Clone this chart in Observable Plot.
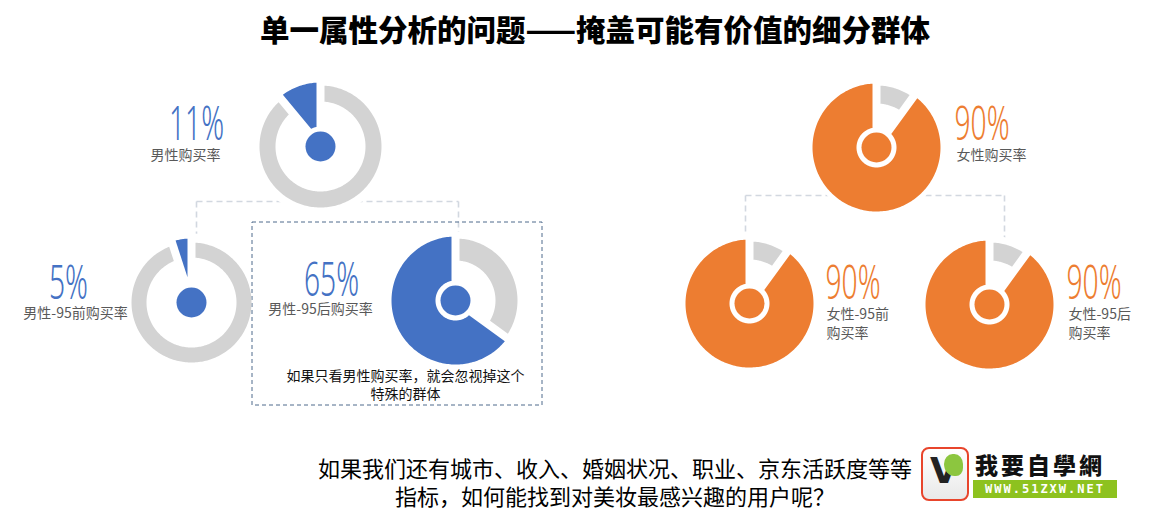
<!DOCTYPE html>
<html>
<head>
<meta charset="utf-8">
<script src="https://cdn.jsdelivr.net/npm/d3@7"></script>
<script src="https://cdn.jsdelivr.net/npm/@observablehq/plot@0.6"></script>
<style>
  html, body { margin: 0; padding: 0; background: #fff; }
  body { width: 1150px; height: 520px; overflow: hidden; position: relative; font-family: "Noto Sans CJK SC", sans-serif; }
  #title { height: 50px; line-height: 56px; text-align: center; font-size: 29.5px; font-weight: 900; color: #000; padding-left: 40px; white-space: nowrap; }
  #chart { height: 380px; }
  #question { position: absolute; left: 300px; top: 453px; width: 630px; text-align: center; font-size: 22px; line-height: 28px; color: #000; white-space: nowrap; }
  #logo { position: absolute; left: 918px; top: 445px; width: 202px; height: 58px; background: #fff; }
  #logo .vbox { position: absolute; left: 3px; top: 2px; width: 44px; height: 50px; border: 2px solid #e8452c; border-radius: 8px; background: linear-gradient(#ffffff, #e9e9e9); }
  #logo .v { position: absolute; left: 7px; top: 2px; font: 900 36px/40px "DejaVu Sans", sans-serif; color: #222; }
  #logo .leaf { position: absolute; left: 21px; top: 5px; width: 19px; height: 22px; background: #8cc63f; border-radius: 50% 50% 40% 60%; }
  #logo .lt { position: absolute; left: 57px; top: 2px; font: 900 23px "Noto Sans CJK TC", sans-serif; letter-spacing: 3px; color: #111; }
  #logo .lb { position: absolute; left: 55px; top: 35px; width: 144px; height: 18px; background: #8dc21f; color: #fff; font: bold 12px "DejaVu Sans Mono", monospace; letter-spacing: 2px; text-align: center; line-height: 18px; }
</style>
</head>
<body>
<div id="title">单一属性分析的问题——掩盖可能有价值的细分群体</div>
<div id="chart"></div>
<div id="question"></div>
<div id="logo"><div class="vbox"><span class="v">V</span><span class="leaf"></span></div><div class="lt">我要自學網</div><div class="lb">WWW.51ZXW.NET</div></div>
<script>
// ---------------- data ----------------
const segments   = ["男性购买率", "男性-95前购买率", "男性-95后购买率", "女性购买率", "女性-95前购买率", "女性-95后购买率"];
const labelLines = ["男性购买率", "男性-95前购买率", "男性-95后购买率", "女性购买率", "女性-95前\n购买率", "女性-95后\n购买率"];
const rates      = [11, 5, 65, 90, 90, 90];
const rateLabels = ["11%", "5%", "65%", "90%", "90%", "90%"];
const gender     = ["男", "男", "男", "女", "女", "女"];
const parentOf   = [null, 0, 0, null, 3, 3];
const noteText   = "如果只看男性购买率，就会忽视掉这个\n特殊的群体";
const questionLines = ["如果我们还有城市、收入、婚姻状况、职业、京东活跃度等等", "指标，如何能找到对美妆最感兴趣的用户呢？"];

// ---------------- styles ----------------
const COLORS = {"男": "#4472C4", "女": "#ED7D31"};
const GRAY = "#D3D3D3";
const LABEL_GRAY = "#595959";
const PAD = 8;
const PCT_CONDENSE = 0.6;

// ---------------- layout (page pixel coordinates) ----------------
const layout = [
  {cx: 320, cy: 146, wedge: [20, 64], rest: [45, 61], px: 196, py: 139, lx: 185, ly: 155, connX: null},
  {cx: 191, cy: 302, wedge: [20, 64], rest: [45, 60], px: 68,  py: 298, lx: 75,  ly: 313, connX: 196},
  {cx: 455, cy: 300, wedge: [20, 64], rest: [40, 62], px: 331, py: 295, lx: 320, ly: 309, connX: 458},
  {cx: 876, cy: 147, wedge: [20, 64], rest: [44, 62], px: 954, py: 139, lx: 956, ly: 155, connX: null},
  {cx: 749, cy: 303, wedge: [20, 64], rest: [44, 62], px: 825, py: 298, lx: 826, ly: 314, connX: 745},
  {cx: 989, cy: 304, wedge: [20, 64], rest: [44, 62], px: 1066, py: 298, lx: 1068, ly: 314, connX: 1004}
];
const branchY = {0: 201, 3: 195};
const noteBox = {x1: 252, x2: 542, y1: 222, y2: 405, tx: 405, ty: 384};

// ---------------- geometry helpers ----------------
function polar(cx, cy, r, t) { return [cx + r * Math.sin(t), cy - r * Math.cos(t)]; }
function sector(out, id, color, cx, cy, t0, t1, r0, r1, pad) {
  const h = pad / 2, half = (t1 - t0) / 2, mid = (t0 + t1) / 2;
  if (half <= 0) return;
  const dOut = Math.asin(Math.min(1, h / r1));
  if (t1 - t0 <= 2 * dOut) return;
  const pts = [];
  const n = Math.max(8, Math.ceil((t1 - t0) * 40));
  for (let k = 0; k <= n; k++) {
    const t = (t0 + dOut) + (t1 - t0 - 2 * dOut) * k / n;
    pts.push(polar(cx, cy, r1, t));
  }
  const apex = half < Math.PI / 2 ? h / Math.sin(half) : 0;
  if (apex > r0) {
    pts.push(polar(cx, cy, apex, mid));
  } else {
    const dIn = Math.asin(Math.min(1, h / r0));
    for (let k = 0; k <= n; k++) {
      const t = (t1 - dIn) - (t1 - t0 - 2 * dIn) * k / n;
      pts.push(polar(cx, cy, r0, t));
    }
  }
  pts.forEach(([x, y]) => out.push({id, color, x, y}));
}

const idx = d3.range(segments.length);
const arcPts = [];
idx.forEach(i => {
  const L = layout[i];
  const a = rates[i] / 100 * 2 * Math.PI;
  sector(arcPts, i + "-rest", GRAY, L.cx, L.cy, 0, 2 * Math.PI - a, L.rest[0], L.rest[1], PAD);
  sector(arcPts, i + "-value", COLORS[gender[i]], L.cx, L.cy, -a, 0, L.wedge[0], L.wedge[1], PAD);
});

// connectors
const links = [];
[0, 3].forEach(p => {
  const kids = idx.filter(i => parentOf[i] === p);
  const y = branchY[p];
  links.push({x1: layout[kids[0]].connX, x2: layout[kids[1]].connX, y1: y, y2: y});
  kids.forEach(k => links.push({x1: layout[k].connX, x2: layout[k].connX, y1: y, y2: layout[k].cy - layout[k].wedge[1] - 2}));
});

const male = idx.filter(i => gender[i] === "男");
const female = idx.filter(i => gender[i] === "女");

const chart = Plot.plot({
  width: 1150,
  height: 380,
  margin: 0,
  x: {domain: [0, 1150], range: [0, 1150], axis: null},
  y: {domain: [50, 430], range: [0, 380], axis: null},
  color: {type: "identity"},
  style: {fontFamily: "'Noto Sans CJK SC', sans-serif", background: "#fff", overflow: "visible"},
  marks: [
    Plot.link(links, {x1: "x1", y1: "y1", x2: "x2", y2: "y2", stroke: "#D2D8E0", strokeWidth: 1.6, strokeDasharray: "6,4"}),
    Plot.dot(idx, {x: i => layout[i].cx, y: i => layout[i].cy, r: 69, fill: "#fff", stroke: "none"}),
    Plot.rect([noteBox], {x1: "x1", x2: "x2", y1: "y1", y2: "y2", fill: "none", stroke: "#4E6A8C", strokeWidth: 1, strokeDasharray: "4,3"}),
    Plot.line(arcPts, {x: "x", y: "y", z: "id", fill: "color", stroke: "none", curve: "linear-closed"}),
    Plot.dot(idx, {x: i => layout[i].cx, y: i => layout[i].cy, r: 15, fill: i => COLORS[gender[i]], stroke: "none"}),
    Plot.text(male, {x: i => layout[i].px, y: i => layout[i].py, text: i => rateLabels[i], fill: i => COLORS[gender[i]], textAnchor: "middle", lineAnchor: "bottom", fontSize: 47, fontWeight: 300, fontFamily: "'Noto Sans', sans-serif"}),
    Plot.text(female, {x: i => layout[i].px, y: i => layout[i].py, text: i => rateLabels[i], fill: i => COLORS[gender[i]], textAnchor: "start", lineAnchor: "bottom", fontSize: 47, fontWeight: 300, fontFamily: "'Noto Sans', sans-serif"}),
    Plot.text(male, {x: i => layout[i].lx, y: i => layout[i].ly, text: i => labelLines[i], fill: LABEL_GRAY, textAnchor: "middle", lineAnchor: "middle", fontSize: 14}),
    Plot.text(female, {x: i => layout[i].lx, y: i => layout[i].ly, text: i => labelLines[i], fill: LABEL_GRAY, textAnchor: "start", lineAnchor: "top", fontSize: 14, lineHeight: 1.3, dy: -8}),
    Plot.text([noteText], {x: noteBox.tx, y: noteBox.ty, text: d => d, fill: "#111", textAnchor: "middle", lineAnchor: "middle", fontSize: 14, lineHeight: 1.3})
  ]
});
document.getElementById("chart").appendChild(chart);
// narrow (condensed) rendering of the big percentage numbers: squeeze each around its anchor point
chart.querySelectorAll("text").forEach(t => {
  if (!/%$/.test(t.textContent.trim())) return;
  const x = parseFloat(t.getAttribute("x")) || 0;
  const y = parseFloat(t.getAttribute("y")) || 0;
  const tr = t.getAttribute("transform") || "";
  t.setAttribute("transform", `${tr} translate(${x},${y}) scale(${PCT_CONDENSE},1) translate(${-x},${-y})`);
});
document.getElementById("question").innerHTML = questionLines.join("<br>");
</script>
</body>
</html>
